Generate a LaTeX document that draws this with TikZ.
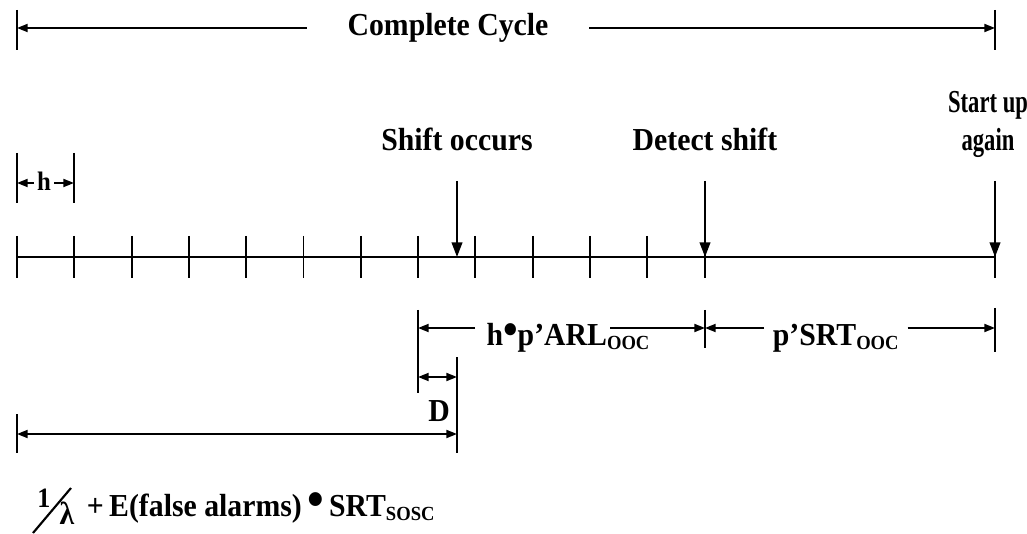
\documentclass[tikz,border=0pt]{standalone}
\usepackage{fontspec}
\usepackage{graphicx}
\setmainfont{Liberation Serif}[FakeStretch=0.93]
\usetikzlibrary{arrows.meta}

\newcommand{\lblfont}{\bfseries\fontsize{24}{29}\selectfont}
\newcommand{\subsc}[1]{\raisebox{-0.3ex}{\fontsize{15}{15}\selectfont #1}}
\newcommand{\bigdot}[1]{\scalebox{#1}{•}}
\newcommand{\narrow}[1]{\scalebox{0.76}[1]{#1}}

\begin{document}
\begin{tikzpicture}[x=0.75pt, y=-0.75pt, line width=1.4pt,
    dim/.style={-{Triangle[length=8pt, width=6pt]}},
    twodim/.style={{Triangle[length=8pt, width=6pt]}-{Triangle[length=8pt, width=6pt]}},
    pointer/.style={-{Triangle[length=11pt, width=8pt]}},
    lbl/.style={font=\lblfont, inner sep=0pt}]
    \useasboundingbox (0,0) rectangle (1027,534);

    % complete cycle
    \coordinate (c0) at (17,28);
    \coordinate (c1) at (995,28);
    \draw (c0) ++(0,-18) -- ++(0,40);
    \draw (c1) ++(0,-18) -- ++(0,40);
    \node[lbl, inner xsep=30pt, anchor=base] (cycle) at (448,36) {Complete Cycle};
    \draw[dim] (cycle.west |- c0) -- (c0);
    \draw[dim] (cycle.east |- c0) -- (c1);

    % sampling interval h
    \coordinate (h0) at (17,183);
    \coordinate (h1) at (74,183);
    \draw (h0) ++(0,-30) -- ++(0,50);
    \draw (h1) ++(0,-30) -- ++(0,50);
    \node[lbl, font=\bfseries\fontsize{20}{22}\selectfont, inner xsep=2pt, anchor=base] (hlbl) at (44,191) {h};
    \draw[dim] (hlbl.west |- h0) -- (h0);
    \draw[dim] (hlbl.east |- h0) -- (h1);

    % time axis with samples
    \foreach \i in {0,...,12} {
        \coordinate (t\i) at ({17+57.3*\i},257);
        \draw (t\i) ++(0,-21) -- ++(0,42);
    }
    \coordinate (tend) at (995,257);
    \draw (tend) ++(0,-21) -- ++(0,42);
    \draw (t0) -- (tend);

    % events
    \node[lbl, anchor=base] (shiftlbl) at (457,151) {Shift occurs};
    \node[lbl, anchor=base] (detectlbl) at (705,151) {Detect shift};
    \node[lbl, anchor=base, align=center] (restartlbl) at (988,151) {\narrow{Start up}\\\narrow{again}};
    \foreach \n/\x in {shift/457, detect/705, restart/995} {
        \coordinate (\n top) at (\x,181);
        \coordinate (\n) at (\x,257);
        \draw[pointer] (\n top) -- (\n);
    }

    % out of control period
    \coordinate (r0) at (418,328);
    \coordinate (r1) at (705,328);
    \coordinate (r2) at (995,328);
    \draw (r0) ++(0,-18) -- ++(0,83);
    \draw (r1) ++(0,-18) -- ++(0,38);
    \draw (r2) ++(0,-20) -- ++(0,44);
    \node[lbl, inner xsep=8pt, anchor=base west] (arl) at (475,345) {h\raisebox{0.05ex}{\bigdot{1.4}}p'ARL\subsc{OOC}};
    \node[lbl, inner xsep=6pt, anchor=base west] (srt) at (764,345) {p'SRT\subsc{OOC}};
    \draw[dim] (arl.west |- r0) -- (r0);
    \draw[dim, shorten <=-38pt] (arl.east |- r0) -- (r1);
    \draw[dim] (srt.west |- r1) -- (r1);
    \draw[dim] (srt.east |- r2) -- (r2);

    % delay D
    \coordinate (d0) at (418,377);
    \coordinate (d1) at (457,377);
    \draw (d1) ++(0,-20) -- ++(0,96);
    \draw[twodim] (d0) -- (d1);
    \node[lbl, anchor=base] (dlbl) at (439,421) {D};

    % in control period
    \coordinate (l0) at (17,434);
    \coordinate (l1) at (457,434);
    \draw (l0) ++(0,-20) -- ++(0,39);
    \draw[twodim] (l0) -- (l1);

    % expected in control time
    \node[lbl, font=\bfseries\fontsize{21}{24}\selectfont, anchor=base] (one) at (44,507) {1};
    \node[lbl, anchor=base] (lam) at (67,524) {λ};
    \draw[line width=1.6pt] (33,533) -- (71,488);
    \node[lbl, anchor=base west] (formula) at (86,516) {+\,E(false alarms)\,\bigdot{1.6}\,SRT\subsc{SOSC}};
\end{tikzpicture}
\end{document}
